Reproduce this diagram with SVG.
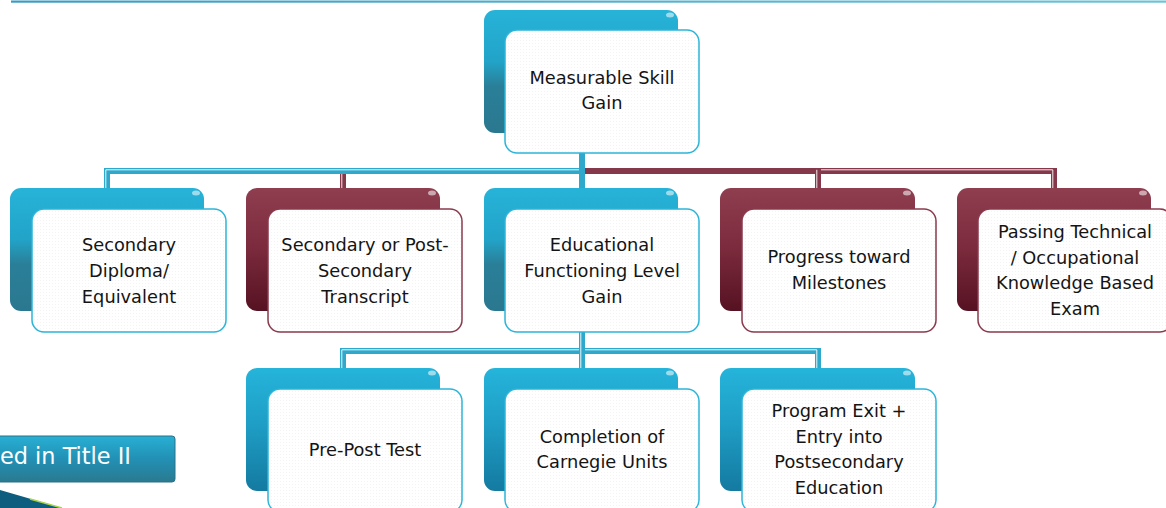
<svg xmlns="http://www.w3.org/2000/svg" width="1166" height="508" viewBox="0 0 1166 508">
<defs>
  <linearGradient id="gTeal" x1="0" y1="0" x2="0" y2="1">
    <stop offset="0" stop-color="#27b3d8"/>
    <stop offset="0.42" stop-color="#22a3c8"/>
    <stop offset="0.62" stop-color="#2a7f98"/>
    <stop offset="1" stop-color="#2a7890"/>
  </linearGradient>
  <linearGradient id="gTeal2" x1="0" y1="0" x2="0" y2="1">
    <stop offset="0" stop-color="#25b4da"/>
    <stop offset="0.45" stop-color="#1f9ec6"/>
    <stop offset="1" stop-color="#147aa0"/>
  </linearGradient>
  <linearGradient id="gMaroon" x1="0" y1="0" x2="0" y2="1">
    <stop offset="0" stop-color="#8f3e50"/>
    <stop offset="0.5" stop-color="#7a2a3c"/>
    <stop offset="1" stop-color="#561222"/>
  </linearGradient>
  <linearGradient id="gTop" x1="0" y1="0" x2="1" y2="0">
    <stop offset="0" stop-color="#3a9cc2"/>
    <stop offset="1" stop-color="#6cc3d6"/>
  </linearGradient>
  <linearGradient id="gLabel" x1="0" y1="0" x2="0" y2="1">
    <stop offset="0" stop-color="#27b0d4"/>
    <stop offset="0.5" stop-color="#2290b4"/>
    <stop offset="1" stop-color="#2a7a90"/>
  </linearGradient>
  <pattern id="dots" width="3" height="3" patternUnits="userSpaceOnUse">
    <rect width="3" height="3" fill="#ffffff"/>
    <rect x="1" y="1" width="1" height="1" fill="#f4f4f4"/>
  </pattern>
  <g id="glint"><ellipse rx="4" ry="2.5" fill="#ffffff" opacity="0.55"/></g>
</defs>
<style>
  .backT { fill: url(#gTeal); }
  .backT2 { fill: url(#gTeal2); }
  .backM { fill: url(#gMaroon); }
  .frontT { fill: url(#dots); stroke: #2bb5d8; stroke-width: 1.5; }
  .frontM { fill: url(#dots); stroke: #8a3a4c; stroke-width: 1.5; }
  .lbl { font-family: "DejaVu Sans", Verdana, sans-serif; font-size: 17.8px; fill: #141414; text-anchor: middle; }
  .cT { fill: none; stroke: #2ea9cb; stroke-width: 6; }
  .cM { fill: none; stroke: #85384a; stroke-width: 6; }
  .hl { fill: none; stroke: #ffffff; stroke-width: 1; opacity: 0.9; }
</style>

<rect x="11" y="0.5" width="1155" height="2.2" fill="url(#gTop)"/>

<g id="connectors">
  <path class="cM" d="M582,153 V171 H343 V188"/>
  <path class="hl" d="M580.8,153 V169.8 H341.8 V188"/>
  <path class="cM" d="M582,153 V171 H1054 V188"/>
  <path class="hl" d="M580.8,153 V169.8 H1052.8 V188"/>
  <path class="cM" d="M582,153 V171 H818 V188"/>
  <path class="hl" d="M816.8,169.8 V188"/>
  <path class="cT" d="M582,153 V171 H107 V188"/>
  <path class="hl" d="M580.8,153 V169.8 H105.8 V188"/>
  <path class="cT" d="M582,153 V188"/>
  <path class="cT" d="M582,332 V351 H343 V368"/>
  <path class="hl" d="M580.8,332 V349.8 H341.8 V368"/>
  <path class="cT" d="M582,332 V351 H818 V368"/>
  <path class="hl" d="M580.8,349.8 H816.8 V368"/>
  <path class="cT" d="M582,332 V368"/>
  <path class="hl" d="M580.8,332 V368"/>
</g>

<g id="n-msg">
  <rect class="backT" x="484" y="10" width="194" height="123" rx="11"/>
  <use href="#glint" x="670" y="15"/>
  <rect class="frontT" x="505" y="30" width="194" height="123" rx="12"/>
  <text class="lbl" x="602" y="83.7">Measurable Skill</text>
  <text class="lbl" x="602" y="109.3">Gain</text>
</g>

<g id="n-diploma">
  <rect class="backT" x="10" y="188" width="194" height="123" rx="11"/>
  <use href="#glint" x="196" y="193"/>
  <rect class="frontT" x="32" y="209" width="194" height="123" rx="12"/>
  <text class="lbl" x="129" y="251.4">Secondary</text>
  <text class="lbl" x="129" y="277">Diploma/</text>
  <text class="lbl" x="129" y="302.6">Equivalent</text>
</g>

<g id="n-transcript">
  <rect class="backM" x="246" y="188" width="194" height="123" rx="11"/>
  <use href="#glint" x="432" y="193"/>
  <rect class="frontM" x="268" y="209" width="194" height="123" rx="12"/>
  <text class="lbl" x="365" y="251.4">Secondary or Post-</text>
  <text class="lbl" x="365" y="277">Secondary</text>
  <text class="lbl" x="365" y="302.6">Transcript</text>
</g>

<g id="n-efl">
  <rect class="backT" x="484" y="188" width="194" height="123" rx="11"/>
  <use href="#glint" x="670" y="193"/>
  <rect class="frontT" x="505" y="209" width="194" height="123" rx="12"/>
  <text class="lbl" x="602" y="251.4">Educational</text>
  <text class="lbl" x="602" y="277">Functioning Level</text>
  <text class="lbl" x="602" y="302.6">Gain</text>
</g>

<g id="n-progress">
  <rect class="backM" x="720" y="188" width="195" height="123" rx="11"/>
  <use href="#glint" x="907" y="193"/>
  <rect class="frontM" x="742" y="209" width="194" height="123" rx="12"/>
  <text class="lbl" x="839" y="263.2">Progress toward</text>
  <text class="lbl" x="839" y="288.8">Milestones</text>
</g>

<g id="n-exam">
  <rect class="backM" x="957" y="188" width="194" height="123" rx="11"/>
  <use href="#glint" x="1143" y="193"/>
  <rect class="frontM" x="978" y="209" width="194" height="123" rx="12"/>
  <text class="lbl" x="1075" y="238.1">Passing Technical</text>
  <text class="lbl" x="1075" y="263.7">/ Occupational</text>
  <text class="lbl" x="1075" y="289.3">Knowledge Based</text>
  <text class="lbl" x="1075" y="314.9">Exam</text>
</g>

<g id="n-prepost">
  <rect class="backT2" x="246" y="368" width="194" height="123" rx="11"/>
  <use href="#glint" x="432" y="373"/>
  <rect class="frontT" x="268" y="389" width="194" height="123" rx="12"/>
  <text class="lbl" x="365" y="455.5">Pre-Post Test</text>
</g>

<g id="n-carnegie">
  <rect class="backT2" x="484" y="368" width="194" height="123" rx="11"/>
  <use href="#glint" x="670" y="373"/>
  <rect class="frontT" x="505" y="389" width="194" height="123" rx="12"/>
  <text class="lbl" x="602" y="442.7">Completion of</text>
  <text class="lbl" x="602" y="468.3">Carnegie Units</text>
</g>

<g id="n-exit">
  <rect class="backT2" x="720" y="368" width="195" height="123" rx="11"/>
  <use href="#glint" x="907" y="373"/>
  <rect class="frontT" x="742" y="389" width="194" height="123" rx="12"/>
  <text class="lbl" x="839" y="417.1">Program Exit +</text>
  <text class="lbl" x="839" y="442.7">Entry into</text>
  <text class="lbl" x="839" y="468.3">Postsecondary</text>
  <text class="lbl" x="839" y="493.9">Education</text>
</g>

<g id="title-label">
  <rect x="-10" y="436" width="185" height="46" rx="3" fill="url(#gLabel)" stroke="#2a7088" stroke-width="1"/>
  <text x="0" y="464" font-family="DejaVu Sans, Verdana, sans-serif" font-size="22.4" fill="#ffffff">ed in Title II</text>
</g>

<g id="swoosh">
  <path d="M0,490 L62,508 L0,508 Z" fill="#0d5e7e"/>
  <path d="M30,499 L62,508" stroke="#a8d44a" stroke-width="1.5" fill="none"/>
</g>
</svg>
